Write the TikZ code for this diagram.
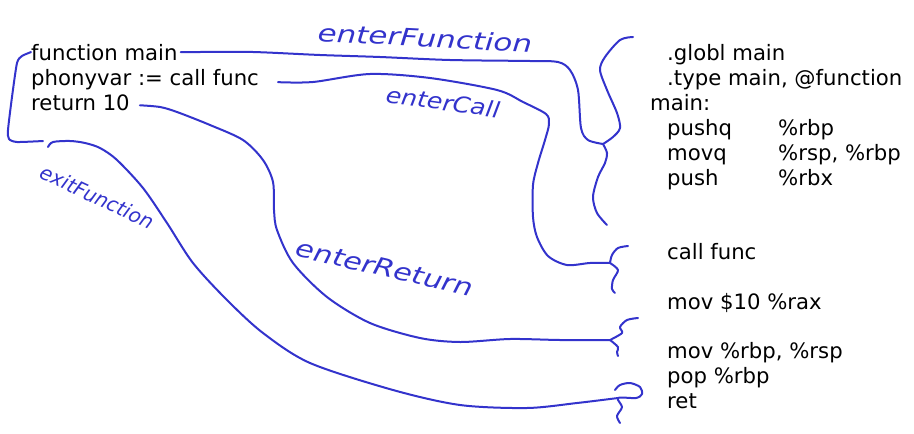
\documentclass[tikz,border=0pt]{standalone}
\usepackage{fontspec}
\usepackage{graphicx}
\setmainfont{DejaVu Sans}
\newfontfamily\hand{DejaVu Sans}
\definecolor{pen}{RGB}{51,51,204}
\begin{document}
\begin{tikzpicture}[x=1pt,y=-1pt,
  code/.style={anchor=base west, inner sep=0pt, font=\fontsize{21.2}{25}\selectfont, text=black},
  ink/.style={draw=pen, line width=2pt, line cap=round, line join=round},
  note/.style={text=pen, inner sep=0pt, font=\hand\itshape\fontsize{22}{22}\selectfont}]
\useasboundingbox (0,0) rectangle (914,434);

% source code
\node[code] (l1) at (31,60) {function main};
\node[code] (l2) at (31,85) {phonyvar := call func};
\node[code] (l3) at (31,110) {return 10};

% assembly
\node[code] (a1) at (667,60) {.globl main};
\node[code] (a2) at (667,85) {.type main, @function};
\node[code] (a3) at (650,110) {main:};
\node[code] (a4) at (667,135) {pushq};
\node[code] (a4b) at (778,135) {\%rbp};
\node[code] (a5) at (667,160) {movq};
\node[code] (a5b) at (778,160) {\%rsp, \%rbp};
\node[code] (a6) at (667,185) {push};
\node[code] (a6b) at (778,185) {\%rbx};
\node[code] (a7) at (667,259) {call func};
\node[code] (a8) at (667,309) {mov \$10 \%rax};
\node[code] (a9) at (667,358) {mov \%rbp, \%rsp};
\node[code] (a10) at (667,383) {pop \%rbp};
\node[code] (a11) at (667,408) {ret};

% brace tips
\coordinate (t1) at (603,144);
\coordinate (t2) at (610,263);
\coordinate (t3) at (610,340);
\coordinate (t4) at (618,398);
\coordinate (bk) at (43,141);

% left bracket
\draw[ink] plot[smooth, tension=0.4] coordinates {(l1.west) (22,56) (17,63) (12,97) (8,130) (9,139) (17,142) (bk)};

% enterFunction
\draw[ink] plot[smooth, tension=0.5] coordinates {([xshift=3pt]l1.east) (200,52) (253,52) (320,55) (380,57) (450,60) (530,61) (558,62) (570,70) (578,90) (581,128) (588,140) (t1)};
% enterCall
\draw[ink] plot[smooth, tension=0.5] coordinates {([xshift=19pt,yshift=-3pt]l2.east) (313,82) (370,74) (430,78) (497,90) (523,102) (546,114) (549,124) (545,140) (538,163) (533,185) (533,217) (537,237) (548,256) (567,265) (590,263) (t2)};
% enterReturn
\draw[ink] plot[smooth, tension=0.5] coordinates {([xshift=10pt,yshift=-3pt]l3.east) (160,107) (177,112) (210,125) (243,140) (263,160) (273,182) (274,210) (277,230) (293,263) (327,297) (370,323) (420,338) (460,342) (510,339) (560,340) (t3)};
% exitFunction
\draw[ink] plot[smooth, tension=0.5] coordinates {(48,147) (53,142) (70,141) (85,143) (100,148) (117,160) (143,188) (167,223) (193,263) (227,300) (263,333) (310,363) (393,390) (460,405) (527,408) (577,403) (t4)};

% braces
\draw[ink] plot[smooth, tension=0.5] coordinates {(633,37) (620,40) (605,57) (600,70) (607,90) (617,113) (620,128) (613,137) (t1)};
\draw[ink] plot[smooth, tension=0.5] coordinates {(t1) (607,153) (605,163) (598,177) (593,197) (597,213) (607,225)};
\draw[ink] plot[smooth, tension=0.5] coordinates {(628,246) (618,248) (612,255) (t2)};
\draw[ink] plot[smooth, tension=0.5] coordinates {(t2) (618,270) (613,280) (612,289) (615,293)};
\draw[ink] plot[smooth, tension=0.5] coordinates {(638,318) (627,320) (620,327) (622,333) (t3)};
\draw[ink] plot[smooth, tension=0.5] coordinates {(t3) (618,347) (617,352) (618,356)};
\draw[ink] plot[smooth, tension=0.5] coordinates {(615,390) (620,385) (630,383) (640,387) (642,394) (636,398) (t4) (622,407) (617,416) (620,423)};

% handwritten labels
\node[note, rotate=-3, font=\hand\itshape\fontsize{24}{24}\selectfont] (n1) at (425,38) {\scalebox{1.29}[1]{enterFunction}};
\node[note, rotate=-8] (n2) at (443,102) {\scalebox{1.15}[1]{enterCall}};
\node[note, rotate=-25, font=\hand\itshape\fontsize{20}{20}\selectfont] (n3) at (97,197) {exitFunction};
\node[note, rotate=-13, font=\hand\itshape\fontsize{24}{24}\selectfont] (n4) at (385,268) {\scalebox{1.25}[1]{enterReturn}};
\end{tikzpicture}
\end{document}
